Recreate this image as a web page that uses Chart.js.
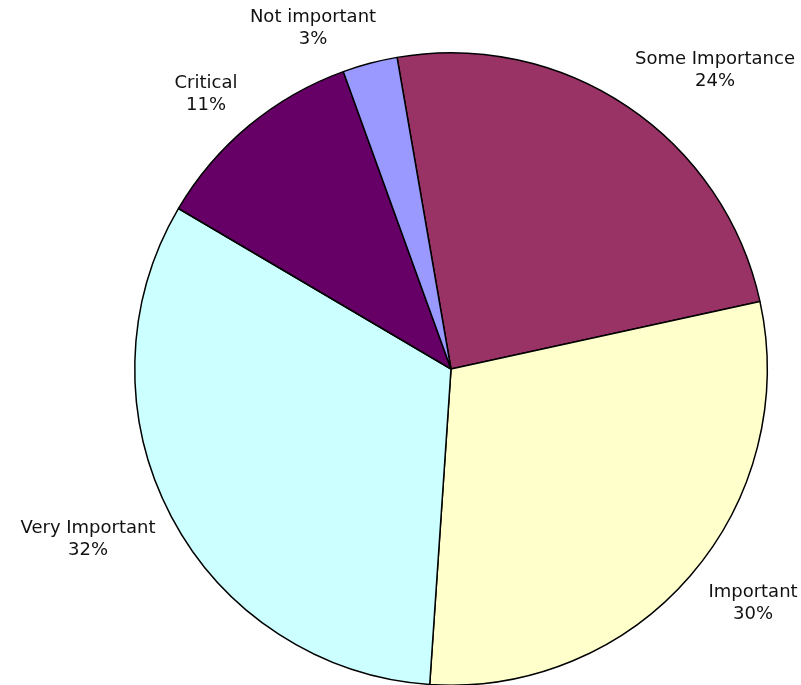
<!DOCTYPE html>
<html>
<head>
<meta charset="utf-8">
<script src="https://cdn.jsdelivr.net/npm/chart.js@4/dist/chart.umd.min.js"></script>
<style>
  html, body { margin: 0; padding: 0; background: #fff; overflow: hidden; }
  #wrap { width: 801px; height: 685px; overflow: hidden; position: relative; }
  canvas { display: block; }
</style>
</head>
<body>
<div id="wrap"><canvas id="c" width="801" height="700"></canvas></div>
<script>
const categories = ["Some Importance", "Important", "Very Important", "Critical", "Not important"];
const values = [24.3, 29.5, 32.4, 11.0, 2.8];
const colors = ["#993366", "#FFFFCC", "#CCFFFF", "#660066", "#9999FF"];

// label placement relative to the pie centre (layout only)
const labelOffsets = [
  [264, -299],
  [302, 234],
  [-363, 170],
  [-245, -275],
  [-138, -341]
];

const labelPlugin = {
  id: 'pieLabels',
  afterDraw(chart) {
    const ctx = chart.ctx;
    const meta = chart.getDatasetMeta(0);
    const data = chart.data.datasets[0].data;
    const total = data.reduce((a, b) => a + b, 0);
    ctx.save();
    ctx.font = '18px "DejaVu Sans", Verdana, sans-serif';
    ctx.fillStyle = '#111';
    ctx.textAlign = 'center';
    ctx.textBaseline = 'middle';
    meta.data.forEach((arc, i) => {
      const cx = arc.x + labelOffsets[i][0];
      const cy = arc.y + labelOffsets[i][1];
      const pct = Math.round(data[i] / total * 100) + '%';
      ctx.fillText(chart.data.labels[i], cx, cy - 11);
      ctx.fillText(pct, cx, cy + 11);
    });
    ctx.restore();
  }
};

new Chart(document.getElementById('c'), {
  type: 'pie',
  data: {
    labels: categories,
    datasets: [{
      data: values,
      backgroundColor: colors,
      borderColor: '#000',
      borderWidth: 1.5
    }]
  },
  options: {
    responsive: false,
    animation: false,
    rotation: -9.82,
    layout: { padding: { top: 52, bottom: 14, left: 134, right: 33 } },
    plugins: {
      legend: { display: false },
      tooltip: { enabled: false }
    }
  },
  plugins: [labelPlugin]
});
</script>
</body>
</html>
